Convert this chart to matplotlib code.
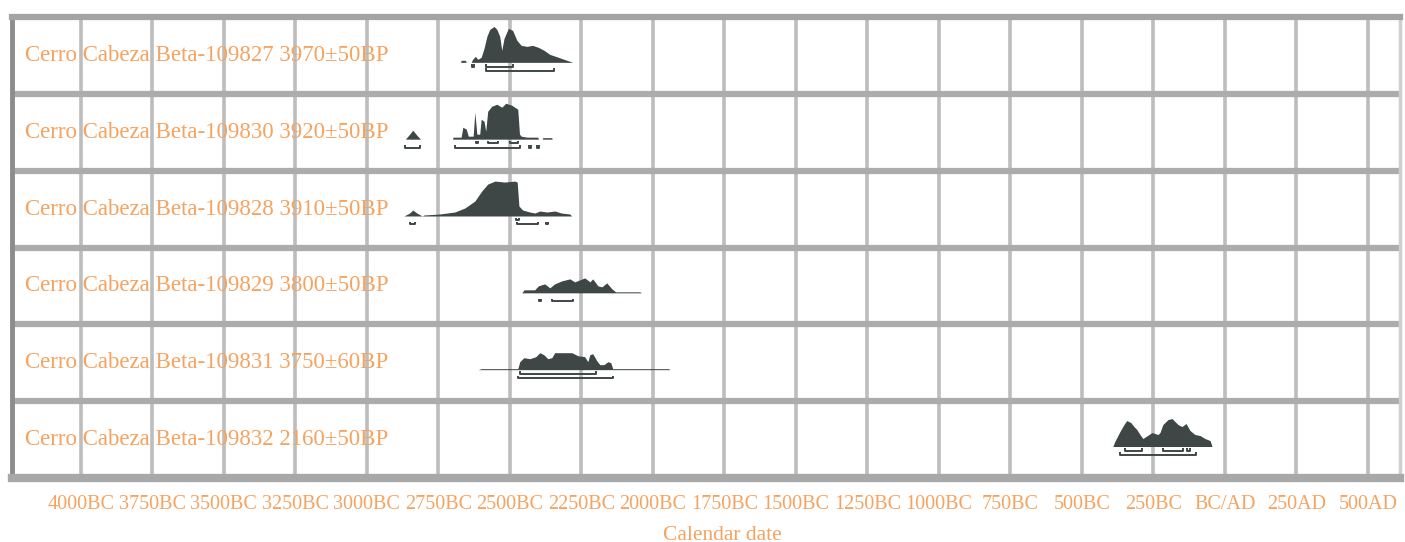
import matplotlib
matplotlib.use("Agg")
import matplotlib.pyplot as plt
from matplotlib.transforms import blended_transform_factory

# ---------------- data ----------------
labels = [
    "Cerro Cabeza Beta-109827 3970±50BP",
    "Cerro Cabeza Beta-109830 3920±50BP",
    "Cerro Cabeza Beta-109828 3910±50BP",
    "Cerro Cabeza Beta-109829 3800±50BP",
    "Cerro Cabeza Beta-109831 3750±60BP",
    "Cerro Cabeza Beta-109832 2160±50BP",
]

tick_years = [-4000, -3750, -3500, -3250, -3000, -2750, -2500, -2250, -2000,
              -1750, -1500, -1250, -1000, -750, -500, -250, 0, 250, 500]
tick_labels = ["4000BC", "3750BC", "3500BC", "3250BC", "3000BC", "2750BC",
               "2500BC", "2250BC", "2000BC", "1750BC", "1500BC", "1250BC",
               "1000BC", "750BC", "500BC", "250BC", "BC/AD", "250AD", "500AD"]

# calibrated probability (relative units) per sample
years1 = [-2672, -2670, -2655, -2652, -2635, -2630, -2620, -2612, -2600, -2590,
          -2580, -2570, -2555, -2545, -2535, -2528, -2520, -2505, -2490, -2475,
          -2460, -2440, -2420, -2400, -2380, -2360, -2340, -2310, -2280]
prob1 = [0, 2, 2, 0, 0, 3, 6, 3, 5, 14,
         26, 33, 36, 33, 26, 12, 24, 34, 32, 22,
         17, 16, 17, 15, 12, 8, 6, 3, 0]

years2 = [-2865, -2850, -2839, -2825, -2812,
          -2700, -2698, -2670, -2664, -2652, -2645, -2628, -2622, -2615, -2605,
          -2600, -2590, -2584, -2577, -2563, -2545, -2528, -2514, -2493, -2472,
          -2466, -2460, -2440, -2402, -2400,
          -2386, -2385, -2353, -2352]
prob2 = [0, 5, 9, 4, 0,
         0, 2, 2, 12, 10, 3, 3, 27, 5, 5,
         20, 18, 8, 28, 33, 35, 32, 36, 34, 30,
         5, 3, 2, 2, 0,
         0, 1.5, 1.5, 0]

years3 = [-2870, -2850, -2839, -2825, -2806,
          -2800, -2745, -2692, -2657, -2622, -2598, -2577, -2552, -2517, -2483,
          -2474, -2468, -2455, -2430, -2412, -2395, -2370, -2342, -2320, -2290, -2284]
prob3 = [0, 3, 6, 3, 0,
         1, 2, 4, 8, 15, 25, 32, 35, 34, 35,
         34, 10, 6, 4, 3, 5, 4, 5, 3, 2, 0]

years4 = [-2458, -2450, -2413, -2400, -2378, -2360, -2343, -2318, -2290, -2273,
          -2255, -2238, -2220, -2210, -2192, -2178, -2161, -2143, -2130, -2045, -2040]
prob4 = [0, 3, 3, 7, 9, 5, 9, 12, 14, 11,
         13, 15, 11, 14, 7, 6, 10, 4, 1, 1, 0]

years5 = [-2610, -2600, -2472, -2465, -2451, -2430, -2409, -2395, -2381, -2367,
          -2353, -2343, -2283, -2262, -2238, -2227, -2220, -2210, -2196, -2185,
          -2171, -2157, -2147, -2140, -1945, -1940]
prob5 = [0, 1, 1, 8, 12, 11, 13, 17, 15, 11,
         12, 17, 17, 14, 13, 8, 15, 16, 9, 5,
         5, 8, 7, 1, 1, 0]

years6 = [-392, -385, -367, -353, -343, -329, -318, -308, -297, -287,
          -276, -255, -234, -227, -217, -199, -185, -164, -150, -136,
          -122, -105, -87, -70, -52, -45]
prob6 = [0, 5, 15, 22, 26, 24, 20, 17, 12, 8,
         10, 14, 12, 14, 22, 27, 28, 22, 20, 23,
         16, 12, 11, 8, 6, 0]

# highest posterior density ranges (68.2% and 95.4%)
r68 = [
    [(-2632, -2626), (-2582, -2490)],
    [(-2618, -2612), (-2577, -2540), (-2500, -2470)],
    [(-2478, -2468)],
    [],
    [(-2465, -2200)],
    [(-350, -290), (-217, -147), (-133, -122)],
]
r95 = [
    [(-2582, -2345)],
    [(-2865, -2815), (-2690, -2465), (-2433, -2425), (-2405, -2398)],
    [(-2850, -2832), (-2476, -2400), (-2374, -2366)],
    [(-2398, -2390), (-2353, -2280)],
    [(-2470, -2140)],
    [(-367, -100)],
]

all_years = [years1, years2, years3, years4, years5, years6]
all_probs = [prob1, prob2, prob3, prob4, prob5, prob6]

# ---------------- drawing ----------------
W, H, DPI = 1405, 542, 100
fig = plt.figure(figsize=(W / DPI, H / DPI), dpi=DPI)
ax = fig.add_axes([12 / W, 1 - 478 / H, (1400 - 12) / W, (478 - 17) / H])

orange = "#f5a35f"
dark = "#3e4646"
serif = ["Liberation Serif", "DejaVu Serif"]

n = len(labels)
ax.set_xlim(-4240, 612)
ax.set_ylim(0, n)

for xv in tick_years:
    ax.axvline(xv, color="#bdbdbd", lw=2.6, zorder=1)
for k in range(1, n):
    ax.axhline(k, color="#acacac", lw=4.5, zorder=1)

row_px = 77.0
base_off = 0.41
trans = blended_transform_factory(ax.transAxes, ax.transData)
for i in range(n):
    y0 = n - 1 - i + base_off
    ys = [y0 + p / row_px for p in all_probs[i]]
    ax.fill_between(all_years[i], y0, ys, color=dark, lw=0, zorder=3)
    ax.text(0.0094, n - 1 - i + 0.5, labels[i], transform=trans, color=orange,
            fontsize=16.5, family=serif, va="center", ha="left", zorder=4)
    for lev, ranges in ((1, r68[i]), (2, r95[i])):
        yb = y0 - lev * 4.2 / row_px
        tick = 2.5 / row_px
        for a, b in ranges:
            ax.plot([a, a, b, b], [yb + tick, yb, yb, yb + tick], color=dark,
                    lw=1.4, solid_capstyle="butt", zorder=3)

ax.set_xticks(tick_years)
ax.set_xticklabels(tick_labels, color=orange, fontsize=14.5, family=serif)
ax.set_yticks([])
ax.tick_params(axis="x", length=0, pad=12)
fig.text(722 / W, 1 - 535 / H, "Calendar date", color=orange, fontsize=15.5,
         family=serif, ha="center", va="center")

for side, col, lw in (("left", "#8c8c8c", 3.5), ("top", "#a4a4a4", 4.5),
                      ("bottom", "#a8a8a8", 6), ("right", "#cfcfcf", 2.5)):
    ax.spines[side].set_color(col)
    ax.spines[side].set_linewidth(lw)

fig.savefig("out.png", dpi=DPI)
